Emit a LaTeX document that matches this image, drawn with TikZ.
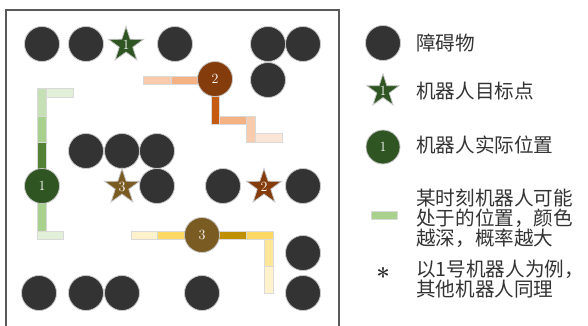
\documentclass[tikz,border=0pt]{standalone}
\usepackage{fontspec}
\newfontfamily\cjk{Noto Sans CJK SC}
\usetikzlibrary{shapes.geometric}
\definecolor{obsc}{HTML}{333333}
\definecolor{bordc}{HTML}{C8C8C8}
\definecolor{cellb}{HTML}{D9D9D9}
\definecolor{frm}{HTML}{595959}
\definecolor{rgreen}{HTML}{2F5522}
\definecolor{rorange}{HTML}{843C0C}
\definecolor{rgold}{HTML}{7A5C22}
\definecolor{ga}{HTML}{E2F0D9}\definecolor{gb}{HTML}{C5E0B4}\definecolor{gc}{HTML}{A9D18E}\definecolor{gd}{HTML}{548235}
\definecolor{oa}{HTML}{FBE5D6}\definecolor{ob}{HTML}{F8CBAD}\definecolor{oc}{HTML}{F4B183}\definecolor{od}{HTML}{C55A11}
\definecolor{ya}{HTML}{FFF2CC}\definecolor{yb}{HTML}{FFE699}\definecolor{yc}{HTML}{FFD966}\definecolor{yd}{HTML}{BF9000}
\begin{document}
\begin{tikzpicture}[x=1pt,y=-1pt,
  obs/.style={circle,fill=obsc,draw=bordc,line width=0.8pt,minimum size=35pt,inner sep=0pt},
  robot/.style={circle,draw=bordc,line width=0.8pt,minimum size=35pt,inner sep=0pt,text=white,font=\fontsize{14}{14}\selectfont},
  goal/.style={star,star points=5,star point ratio=2.6,minimum size=37pt,inner sep=0pt,draw=bordc,line width=0.8pt,text=white,font=\fontsize{14}{14}\selectfont},
  cell/.style={draw=cellb,line width=0.8pt},
  legtext/.style={anchor=west,font=\cjk\fontsize{19.6}{20}\selectfont,text=black!80,align=left,inner sep=0pt}]
\useasboundingbox (0,0) rectangle (588,326);
\begin{scope}
\clip (0,0) rectangle (588,326);
\draw[frm,line width=1.6pt] (6,10) rectangle (339,340);
\end{scope}
% robot 1 path
\filldraw[cell,fill=gb] (37,88) rectangle (46,116);
\filldraw[cell,fill=gc] (37,116) rectangle (46,142);
\filldraw[cell,fill=gd] (37,142) rectangle (46,170);
\filldraw[cell,fill=ga] (46,88) rectangle (73,97);
\filldraw[cell,fill=gc] (37,202) rectangle (46,231);
\filldraw[cell,fill=ga] (37,231) rectangle (63,239);
% robot 2 path
\filldraw[cell,fill=ob] (143,76) rectangle (171,84);
\filldraw[cell,fill=oc] (171,76) rectangle (199,84);
\filldraw[cell,fill=od] (211,96) rectangle (219,124);
\filldraw[cell,fill=oc] (219,116) rectangle (246,124);
\filldraw[cell,fill=ob] (246,116) rectangle (255,142);
\filldraw[cell,fill=oa] (255,133) rectangle (282,142);
% robot 3 path
\filldraw[cell,fill=ya] (131,231) rectangle (157,239);
\filldraw[cell,fill=yc] (157,231) rectangle (186,239);
\filldraw[cell,fill=yd] (218,231) rectangle (246,239);
\filldraw[cell,fill=yc] (246,231) rectangle (273,239);
\filldraw[cell,fill=yb] (264,239) rectangle (273,266);
\filldraw[cell,fill=ya] (264,266) rectangle (273,293);
% obstacles
\node[obs] (o1) at (42,44) {};
\node[obs] (o2) at (86,44) {};
\node[obs] (o3) at (175,44) {};
\node[obs] (o4) at (268,44) {};
\node[obs] (o5) at (303,44) {};
\node[obs] (o6) at (268,80) {};
\node[obs] (o7) at (86,151) {};
\node[obs] (o8) at (122,151) {};
\node[obs] (o9) at (157,151) {};
\node[obs] (o10) at (157,186) {};
\node[obs] (o11) at (223,186) {};
\node[obs] (o12) at (303,186) {};
\node[obs] (o13) at (303,253) {};
\node[obs] (o14) at (39,293) {};
\node[obs] (o15) at (86,293) {};
\node[obs] (o16) at (122,293) {};
\node[obs] (o17) at (202,293) {};
\node[obs] (o18) at (303,293) {};
% goals
\node[goal,fill=rgreen] (g1) at (126,45) {1};
\node[goal,fill=rgold] (g3) at (122,187) {3};
\node[goal,fill=rorange] (g2) at (264,187) {2};
% robots
\node[robot,fill=rgreen] (r1) at (42,186) {1};
\node[robot,fill=rorange] (r2) at (215,79) {2};
\node[robot,fill=rgold] (r3) at (202,235) {3};
% legend
\node[obs] (lo) at (383,43) {};
\node[legtext] (lt1) at (416,43) {障碍物};
\node[goal,fill=rgreen,minimum size=33pt] (lg) at (383,91) {1};
\node[legtext] (lt2) at (416,91) {机器人目标点};
\node[robot,fill=rgreen,minimum size=34pt] (lr) at (383,147) {1};
\node[legtext] (lt3) at (416,145) {机器人实际位置};
\filldraw[cell,fill=gc] (371,211) rectangle (397,219);
\node[legtext] (lt4) at (416,218) {某时刻机器人可能\\处于的位置，颜色\\越深，概率越大};
\node[anchor=center,font=\bfseries\fontsize{24}{24}\selectfont,text=black!85] (ast) at (383,276) {*};
\node[legtext] (lt5) at (416,279) {以1号机器人为例，\\其他机器人同理};
\end{tikzpicture}
\end{document}
